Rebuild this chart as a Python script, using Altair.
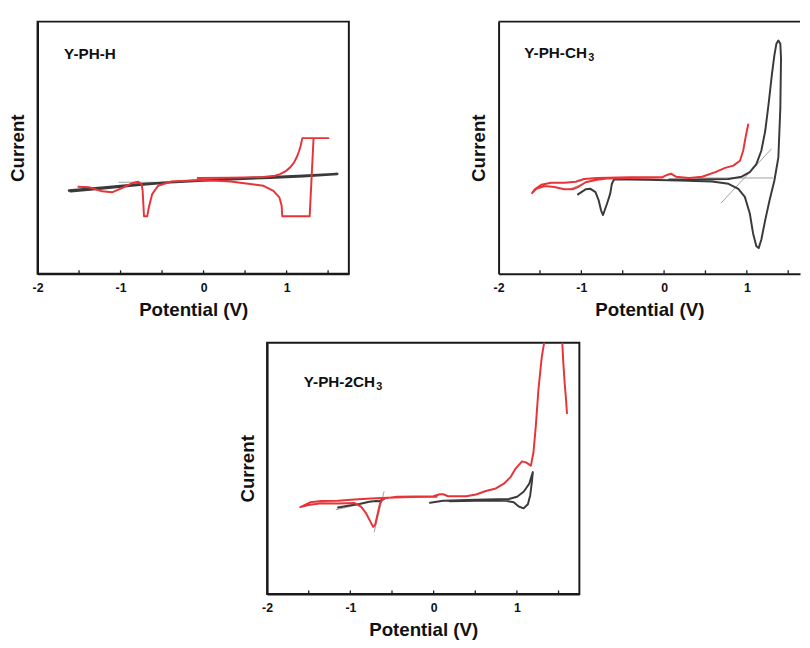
import altair as alt
import pandas as pd

FONT = "Liberation Sans"
RED = "#e63439"
DARK = "#3a3a3a"
GRAY = "#a0a0a0"
FRAME = "#1a1a1a"

X_TICKS = [-2, -1.5, -1, -0.5, 0, 0.5, 1, 1.5]
X_TITLE = "Potential (V)"
Y_TITLE = "Current"

# ---------------- Panel 1 : Y-PH-H ----------------
P1_NAME = "Y-PH-H"
P1_SUB = ""
P1_LABEL_V = [-1.68]
P1_LABEL_I = [87.3]
P1_BLK_V = [-1.62, -1.2, -0.8, -0.4, 0.0, 0.4, 0.8, 1.2, 1.61, 1.2, 0.8, 0.4, 0.0, -0.4, -0.8, -1.2, -1.6]
P1_BLK_I = [33.0, 34.2, 35.4, 36.3, 37.0, 37.6, 38.1, 38.7, 39.6, 38.9, 38.3, 37.7, 37.1, 36.3, 35.2, 33.9, 32.7]
P1_RED_V = [-0.071, 0.325, 0.722, 0.860, 0.921, 0.985, 1.040, 1.085, 1.119, 1.150, 1.167, 1.190, 1.504,
            1.325, 1.278, 0.948, 0.940,
            0.913, 0.841, 0.722, 0.325, -0.004, -0.389, -0.548, -0.619, -0.659, -0.679, -0.718, -0.734,
            -0.746, -0.786, -0.865, -0.984, -1.103, -1.222, -1.381, -1.508]
P1_RED_I = [38.0, 38.1, 38.4, 38.9, 39.5, 40.6, 42.1, 43.9, 46.0, 48.6, 50.5, 53.8, 53.8,
            53.8, 22.8, 22.8, 27.1,
            30.3, 32.9, 34.9, 36.6, 37.2, 36.6, 34.9, 31.6, 26.4, 22.8, 22.8, 32.9,
            35.5, 36.5, 35.9, 34.0, 32.3, 32.7, 34.3, 34.5]
P1_TAN = [([-1.02, -0.58], [36.3, 36.3])]

# ---------------- Panel 2 : Y-PH-CH3 ----------------
P2_NAME = "Y-PH-CH"
P2_SUB = "3"
P2_LABEL_V = [-1.69]
P2_LABEL_I = [87.5]
P2_BLK_V = [0.063, 0.381, 0.778, 0.937, 1.036, 1.115, 1.175, 1.222, 1.262, 1.302, 1.333, 1.357, 1.381,
            1.405, 1.413, 1.405, 1.381, 1.333, 1.274, 1.222, 1.175, 1.143, 1.115, 1.075, 1.036, 0.976,
            0.897, 0.778, 0.579, 0.183, -0.214, -0.603, -0.631, -0.651, -0.683, -0.710, -0.738, -0.762,
            -0.790, -0.829, -0.889, -0.948, -1.0, -1.040]
P2_BLK_I = [37.4, 37.4, 37.6, 38.5, 40.3, 43.5, 48.8, 56.6, 67.1, 78.8, 86.7, 91.2, 92.5,
            91.2, 85.4, 65.8, 46.2, 37.0, 29.1, 21.3, 13.5, 10.2, 10.9, 16.1, 23.9, 30.5,
            33.7, 35.7, 36.6, 37.0, 37.3, 37.5, 35.7, 31.8, 28.5, 25.9, 23.3, 25.2,
            29.1, 32.4, 33.7, 33.5, 32.4, 31.5]
P2_RED_V = [-0.016, -0.413, -0.690, -0.810, -0.948, -1.028, -1.107, -1.206, -1.325, -1.444, -1.544, -1.595,
            -1.563, -1.484, -1.365, -1.206, -1.067, -0.968, -0.810, -0.413, -0.016, 0.044, 0.083, 0.143,
            0.302, 0.460, 0.619, 0.738, 0.837, 0.917, 0.956, 0.984, 1.016]
P2_RED_I = [38.2, 38.0, 37.8, 37.3, 36.3, 34.6, 33.5, 33.5, 34.4, 34.8, 33.7, 32.0,
            33.5, 35.3, 36.1, 36.1, 36.5, 37.6, 38.0, 38.3, 38.4, 39.3, 39.7, 38.5,
            38.0, 38.5, 40.3, 42.0, 42.9, 44.8, 48.8, 54.0, 59.2]
P2_TAN = [([0.40, 1.313], [38.0, 38.0]), ([0.690, 1.294], [28.1, 49.4]), ([-1.147, -0.96], [33.5, 36.0])]

# ---------------- Panel 3 : Y-PH-2CH3 ----------------
P3_NAME = "Y-PH-2CH"
P3_SUB = "3"
P3_LABEL_V = [-1.56]
P3_LABEL_I = [84.3]
P3_BLK_A_V = [-1.148, -1.010, -0.891, -0.773, -0.694, -0.655, -0.596]
P3_BLK_A_I = [34.4, 35.2, 35.8, 36.7, 37.0, 36.9, 37.8]
P3_BLK_B_V = [-0.043, 0.115, 0.509, 0.903, 1.002, 1.081, 1.148, 1.191, 1.180, 1.160, 1.132, 1.081,
              1.022, 0.962, 0.864, 0.509, 0.193]
P3_BLK_B_I = [36.3, 37.1, 37.5, 37.8, 38.7, 40.7, 43.9, 48.5, 44.6, 39.3, 35.7, 34.1,
              34.8, 36.5, 37.1, 37.1, 36.9]
P3_RED_V = [0.036, -0.280, -0.556, -0.754, -0.950, -1.148, -1.346, -1.483, -1.601, -1.503, -1.346, -1.148,
            -0.950, -0.872, -0.813, -0.761, -0.726, -0.702, -0.675, -0.643, -0.604, -0.438, -0.004, 0.075,
            0.115, 0.174, 0.391, 0.509, 0.627, 0.746, 0.844, 0.923, 0.982, 1.062, 1.109, 1.168, 1.199,
            1.227, 1.258, 1.298, 1.337, 1.44, 1.542, 1.558, 1.574, 1.590, 1.601]
P3_RED_I = [38.7, 38.6, 38.3, 38.0, 37.6, 37.1, 37.0, 36.5, 34.6, 35.4, 36.1, 36.0,
            36.2, 34.8, 32.2, 28.9, 26.7, 27.6, 31.5, 36.1, 38.0, 38.7, 38.9, 39.7,
            39.7, 38.9, 38.9, 39.6, 41.0, 42.0, 43.9, 46.5, 49.8, 52.8, 52.4, 51.1, 56.4,
            66.8, 81.2, 94.2, 102.0, 115.0, 102.0, 91.6, 83.8, 77.3, 72.0]
P3_TAN = [([-0.714, -0.596], [24.7, 40.7]), ([-1.17, -0.91], [33.6, 35.5])]

LABEL_SIZE = 15.5
SUB_SIZE = 11


def curves_df(segments):
    rows = []
    for sid, (vs, cs) in enumerate(segments):
        for k, (v, c) in enumerate(zip(vs, cs)):
            rows.append({"V": v, "I": c, "seg": sid, "k": k})
    return pd.DataFrame(rows)


def x_axis():
    return alt.Axis(title=X_TITLE, values=X_TICKS, grid=False, ticks=False, tickSize=0,
                    labelExpr="datum.value % 1 == 0 ? '' + datum.value : ''",
                    labelFlush=False, labelPadding=8, titlePadding=7,
                    labelFont=FONT, labelFontSize=12.5, labelFontWeight="bold", labelColor="#111",
                    titleFont=FONT, titleFontSize=19, titleFontWeight="bold", titleColor="#111",
                    domain=True, domainColor=FRAME, domainWidth=2)


def y_axis():
    return alt.Axis(title=Y_TITLE, labels=False, ticks=False, tickSize=0, grid=False,
                    titlePadding=10, titleFont=FONT, titleFontSize=19, titleFontWeight="bold",
                    titleColor="#111", domain=True, domainColor=FRAME, domainWidth=2)


def panel(black_segs, red_segs, tangents, name, sub, lab_v, lab_i, xmax, w, h,
          black_width=2, open_right=False):
    xs = alt.Scale(domain=[-2, xmax], nice=False, zero=False)
    ys = alt.Scale(domain=[0, 100], nice=False, zero=False)

    def enc(ch):
        return ch.encode(
            x=alt.X("V:Q", scale=xs, axis=x_axis()),
            y=alt.Y("I:Q", scale=ys, axis=y_axis()),
        )

    def lines(segs, color, width):
        return enc(alt.Chart(curves_df(segs)).mark_line(color=color, strokeWidth=width, clip=True,
                                                         strokeJoin="round", strokeCap="round")
                   ).encode(detail="seg:N", order="k:Q")

    layers = [lines(tangents, GRAY, 1), lines(black_segs, DARK, black_width), lines(red_segs, RED, 2)]

    tick_df = pd.DataFrame({"V": [t for t in X_TICKS if t > -2]})
    ticks = alt.Chart(tick_df).mark_rule(color=FRAME, strokeWidth=1.3).encode(
        x=alt.X("V:Q", scale=xs, axis=x_axis()),
        y=alt.value(h), y2=alt.value(h - 3.5))
    layers.append(ticks)

    lab_df = pd.DataFrame({"V": lab_v, "I": lab_i, "t": [name]})
    lab = enc(alt.Chart(lab_df).mark_text(align="left", baseline="middle", font=FONT, fontSize=LABEL_SIZE,
                                          fontWeight="bold", color="#111")).encode(text="t:N")
    layers.append(lab)
    if sub:
        sub_df = pd.DataFrame({"V": lab_v, "I": lab_i, "t": [sub]})
        em = {"Y": 0.667, "P": 0.667, "C": 0.722, "H": 0.722, "-": 0.333, "2": 0.556}
        subw = sum(em[c] for c in name) * LABEL_SIZE + 0.5
        s = enc(alt.Chart(sub_df).mark_text(align="left", baseline="middle", font=FONT, fontSize=SUB_SIZE,
                                            fontWeight="bold", color="#111", dx=subw, dy=5)).encode(text="t:N")
        layers.append(s)
    if open_right:
        top = alt.Chart(pd.DataFrame({"a": [0]})).mark_rule(color=FRAME, strokeWidth=2).encode(
            x=alt.value(0), x2=alt.value(w), y=alt.value(0))
        layers.append(top)

    ch = alt.layer(*layers).properties(width=w, height=h)
    if open_right:
        ch = ch.properties(view=alt.ViewBackground(stroke="transparent"))
    return ch


p1 = panel([(P1_BLK_V, P1_BLK_I)], [(P1_RED_V, P1_RED_I)], P1_TAN,
           P1_NAME, P1_SUB, P1_LABEL_V, P1_LABEL_I, 1.75, 316, 256, black_width=2.6)
p2 = panel([(P2_BLK_V, P2_BLK_I)], [(P2_RED_V, P2_RED_I)], P2_TAN,
           P2_NAME, P2_SUB, P2_LABEL_V, P2_LABEL_I, -2 + 306 / 84.0, 306, 256, open_right=True)
p3 = panel([(P3_BLK_A_V, P3_BLK_A_I), (P3_BLK_B_V, P3_BLK_B_I)], [(P3_RED_V, P3_RED_I)], P3_TAN,
           P3_NAME, P3_SUB, P3_LABEL_V, P3_LABEL_I, 1.75, 317, 255)

spacer = alt.Chart(pd.DataFrame({"a": [0]})).mark_point(opacity=0).encode(
    x=alt.value(20), y=alt.value(5)).properties(width=202, height=10,
                                                view=alt.ViewBackground(stroke="transparent"))

top_row = alt.hconcat(p1, p2, spacing=121)
bottom_row = alt.hconcat(spacer, p3, spacing=0)

chart = alt.vconcat(top_row, bottom_row, spacing=21).properties(
    padding={"left": 0, "top": 7, "right": 0, "bottom": 0}
).configure_view(stroke=FRAME, strokeWidth=2)

chart.save("out.html", embed_options={"renderer": "svg", "actions": False})
